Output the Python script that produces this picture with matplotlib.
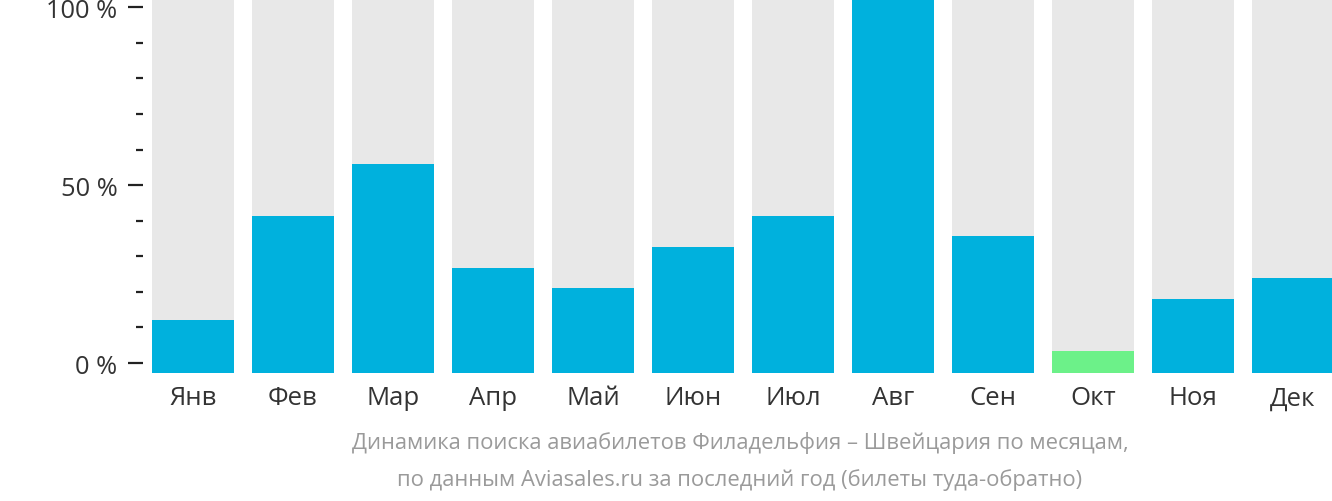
import matplotlib
matplotlib.use("Agg")
import matplotlib.pyplot as plt
import numpy as np

# values in %
months = ['Янв', 'Фев', 'Мар', 'Апр', 'Май', 'Июн', 'Июл', 'Авг', 'Сен', 'Окт', 'Ноя', 'Дек']
values = [12.1, 41.3, 55.9, 26.7, 21.1, 32.6, 41.3, 102.3, 35.7, 3.4, 18.0, 23.9]
lowest = 'Окт'
yticks = [0, 50, 100]
ytick_labels = ['0 %', '50 %', '100 %']
caption = ('Динамика поиска авиабилетов Филадельфия – Швейцария по месяцам,\n'
           'по данным Aviasales.ru за последний год (билеты туда-обратно)')

plt.rcParams['font.family'] = ['Open Sans', 'DejaVu Sans']

fig = plt.figure(figsize=(13.32, 5.02), dpi=100)
ax = fig.add_axes([143 / 1332, 128 / 502, (1332 - 143) / 1332, 374 / 502])

ymin, ymax = -2.81, 102.3
x = np.arange(len(months))
colors = ['#6cf189' if m == lowest else '#00b1dd' for m in months]

# grey background columns, then the values on top
ax.bar(x, ymax - ymin, bottom=ymin, width=0.82, color='#e8e8e8', zorder=1)
ax.bar(x, np.array(values) - ymin, bottom=ymin, width=0.82, color=colors, zorder=2)

ax.set_xlim(-0.5, 11.39)
ax.set_ylim(ymin, ymax)

for s in ax.spines.values():
    s.set_visible(False)

ax.set_xticks(x)
ax.set_xticklabels(months, fontsize=18.5, color='#333333')
ax.tick_params(axis='x', length=0, pad=9)

minor = [v for v in range(10, 100, 10) if v % 50 != 0]
ax.set_yticks(yticks)
ax.set_yticklabels(ytick_labels, fontsize=18.3, color='#333333')
ax.set_yticks(minor, minor=True)
ax.tick_params(axis='y', which='major', length=10.8, width=1.6, color='#222222', pad=7.5)
ax.tick_params(axis='y', which='minor', length=5, width=1.6, color='#222222')

fig.text(740 / 1332, (502 - 461.5) / 502, caption, ha='center', va='center',
         fontsize=15.8, color='#9a9a9a', linespacing=1.85)

fig.savefig('out.png', dpi=100)
